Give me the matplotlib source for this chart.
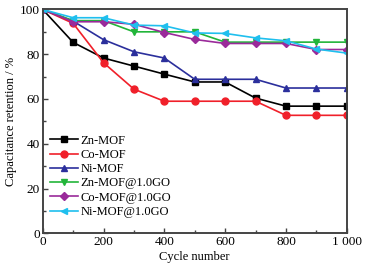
import matplotlib
matplotlib.use("Agg")
import matplotlib.pyplot as plt
from matplotlib.ticker import MultipleLocator

plt.rcParams['font.family'] = ['Liberation Serif', 'DejaVu Serif']
plt.rcParams['mathtext.fontset'] = 'stix'

cycles = [0, 100, 200, 300, 400, 500, 600, 700, 800, 900, 1000]
zn_mof = [100, 85.3, 78.3, 74.7, 71.1, 67.6, 67.6, 60.4, 56.8, 56.8, 56.8]
co_mof = [100, 93.8, 76.2, 64.4, 59.0, 59.0, 59.0, 59.0, 52.7, 52.7, 52.7]
ni_mof = [100, 94.8, 86.5, 81.1, 78.3, 68.8, 68.8, 68.8, 64.9, 64.9, 64.9]
zn_go = [100, 95.0, 95.0, 90.0, 90.0, 90.0, 85.4, 85.4, 85.4, 85.4, 85.4]
co_go = [100, 94.5, 94.5, 93.4, 89.7, 86.6, 84.8, 84.8, 84.8, 82.1, 82.1]
ni_go = [100, 96.3, 96.3, 93.0, 92.7, 89.5, 89.3, 87.3, 86.0, 82.3, 80.5]

labels = ["Zn-MOF", "Co-MOF", "Ni-MOF", "Zn-MOF@1.0GO", "Co-MOF@1.0GO", "Ni-MOF@1.0GO"]
series = [zn_mof, co_mof, ni_mof, zn_go, co_go, ni_go]
colors = ["#000000", "#f0202a", "#2b2f9c", "#22b53a", "#9a2a9a", "#1fbfee"]
markers = ["s", "o", "^", "v", "D", "<"]
msizes = [4.5, 5, 5, 5, 4, 5]

xticks = [0, 200, 400, 600, 800, 1000]
xticklabels = ["0", "200", "400", "600", "800", "1 000"]
yticks = [0, 20, 40, 60, 80, 100]

fig = plt.figure(figsize=(3.65, 2.70), dpi=100)
ax = fig.add_axes([0.117, 0.136, 0.833, 0.829])

for ys, lab, c, m, ms in zip(series, labels, colors, markers, msizes):
    ax.plot(cycles, ys, color=c, marker=m, markersize=ms, linewidth=1.2, label=lab)

ax.set_xlim(0, 1000)
ax.set_ylim(0, 100)
ax.set_xticks(xticks)
ax.set_xticklabels(xticklabels)
ax.set_yticks(yticks)
ax.xaxis.set_minor_locator(MultipleLocator(100))
ax.yaxis.set_minor_locator(MultipleLocator(10))
ax.tick_params(which='both', direction='in', top=False, right=False, labelsize=9.5, pad=2, color='#444444')
ax.tick_params(which='major', length=3.5, width=1)
ax.tick_params(which='minor', length=2, width=1)
for s in ax.spines.values():
    s.set_linewidth(1.4)
    s.set_color('#444444')

ax.set_xlabel("Cycle number", fontsize=9, labelpad=2)
ax.set_ylabel("Capacitance retention / %", fontsize=9, labelpad=2)

leg = ax.legend(loc='lower left', frameon=False, fontsize=9, handlelength=2.2,
                handletextpad=0.2, labelspacing=0.18, borderaxespad=0.2,
                bbox_to_anchor=(0.0, 0.035))

fig.savefig("out.png", dpi=100)
